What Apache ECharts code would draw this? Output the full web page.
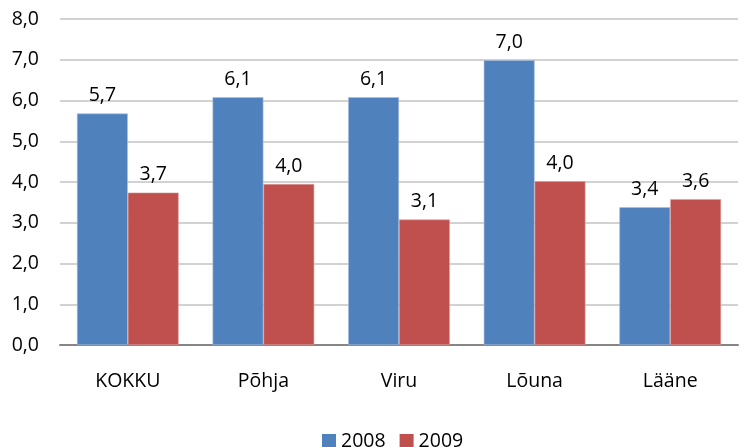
<!DOCTYPE html>
<html>
<head>
<meta charset="utf-8">
<script src="https://cdn.jsdelivr.net/npm/echarts@6/dist/echarts.min.js"></script>
<style>html,body{margin:0;padding:0;background:#fff}#c{width:746px;height:447px}</style>
</head>
<body>
<div id="c"></div>
<script>
const categories = ['KOKKU', 'Põhja', 'Viru', 'Lõuna', 'Lääne'];
const seriesNames = ['2008', '2009'];
const values2008 = [5.68, 6.08, 6.08, 6.99, 3.38];
const values2009 = [3.74, 3.95, 3.08, 4.02, 3.58];
const yTicks = { min: 0, max: 8, interval: 1 };

const fmt = v => Number(v).toFixed(1).replace('.', ',');
const FONT = 'Open Sans';
const FS = 19.5;
const chart = echarts.init(document.getElementById('c'), null, { renderer: 'canvas' });
const labelStyle = {
  show: true, position: 'top', distance: 8, color: '#000',
  fontFamily: FONT, fontSize: FS,
  formatter: p => fmt(p.value)
};
chart.setOption({
  animation: false,
  backgroundColor: '#fff',
  grid: { left: 60, right: 8, top: 19, bottom: 102 },
  legend: {
    data: seriesNames, left: 317, top: 426,
    itemWidth: 14, itemHeight: 14, itemGap: 14, icon: 'rect',
    textStyle: { fontFamily: FONT, fontSize: FS, color: '#000' },
    itemStyle: { borderWidth: 0 }
  },
  xAxis: {
    type: 'category', data: categories,
    axisLine: { lineStyle: { color: '#868686', width: 2 } },
    axisTick: { show: false },
    axisLabel: { margin: 26, fontFamily: FONT, fontSize: FS, color: '#000' }
  },
  yAxis: {
    type: 'value', min: yTicks.min, max: yTicks.max, interval: yTicks.interval,
    axisLine: { show: false }, axisTick: { show: false },
    splitLine: { lineStyle: { color: '#c3c3c3', width: 1.5 } },
    axisLabel: { margin: 21, fontFamily: FONT, fontSize: FS, color: '#000', formatter: v => fmt(v) }
  },
  series: [
    { name: seriesNames[0], type: 'bar', data: values2008, barGap: '0%', barCategoryGap: '25%',
      itemStyle: { color: '#4F81BD', borderColor: '#a9c0de', borderWidth: 0.6 }, label: labelStyle },
    { name: seriesNames[1], type: 'bar', data: values2009, barGap: '0%', barCategoryGap: '25%',
      itemStyle: { color: '#C0504D', borderColor: '#dca5a3', borderWidth: 0.6 }, label: labelStyle }
  ]
});
</script>
</body>
</html>
